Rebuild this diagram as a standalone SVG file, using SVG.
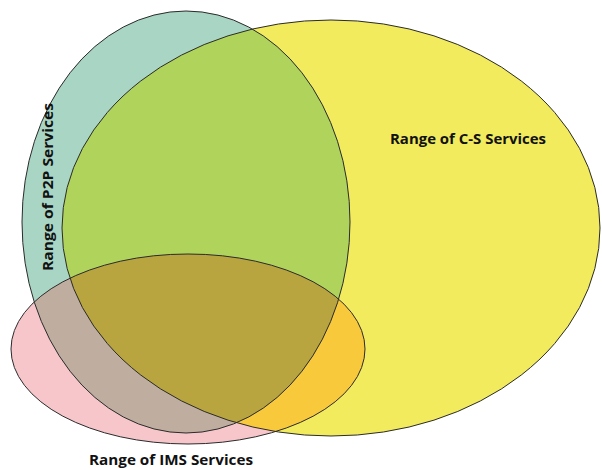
<svg xmlns="http://www.w3.org/2000/svg" width="602" height="470" viewBox="0 0 602 470">
<style>
.edge{fill:none;stroke:#2b2b2b;stroke-width:1}
.lbl{font-family:"Open Sans","Liberation Sans",sans-serif;font-weight:bold;font-size:15px;fill:#111}
</style>
<defs>
<ellipse id="eP" cx="186" cy="222" rx="164" ry="211"/>
<ellipse id="eC" cx="331" cy="228" rx="269" ry="208"/>
<ellipse id="eI" cx="188" cy="349" rx="177" ry="95"/>
<clipPath id="cP"><use href="#eP"/></clipPath>
<clipPath id="cC"><use href="#eC"/></clipPath>
<clipPath id="cI"><use href="#eI"/></clipPath>
</defs>
<rect width="602" height="470" fill="#ffffff"/>
<g id="cs"><use href="#eC" fill="#f2eb5e"/></g>
<g id="p2p"><use href="#eP" fill="#a9d5c4"/></g>
<g id="ims"><use href="#eI" fill="#f7c6cb"/></g>
<g id="overlaps">
<g clip-path="url(#cC)"><use href="#eP" fill="#afd35b"/></g>
<g clip-path="url(#cC)"><use href="#eI" fill="#f9c93c"/></g>
<g clip-path="url(#cP)"><use href="#eI" fill="#bfae9f"/></g>
<g clip-path="url(#cP)"><g clip-path="url(#cC)"><use href="#eI" fill="#b8a53f"/></g></g>
</g>
<g id="outlines">
<use href="#eC" class="edge"/>
<use href="#eP" class="edge"/>
<use href="#eI" class="edge"/>
</g>
<text class="lbl" x="390" y="144" textLength="156" lengthAdjust="spacingAndGlyphs">Range of C-S Services</text>
<text class="lbl" transform="translate(53,271) rotate(-90)" x="0" y="0" textLength="168" lengthAdjust="spacingAndGlyphs">Range of P2P Services</text>
<text class="lbl" x="89" y="465" textLength="164" lengthAdjust="spacingAndGlyphs">Range of IMS Services</text>
</svg>
